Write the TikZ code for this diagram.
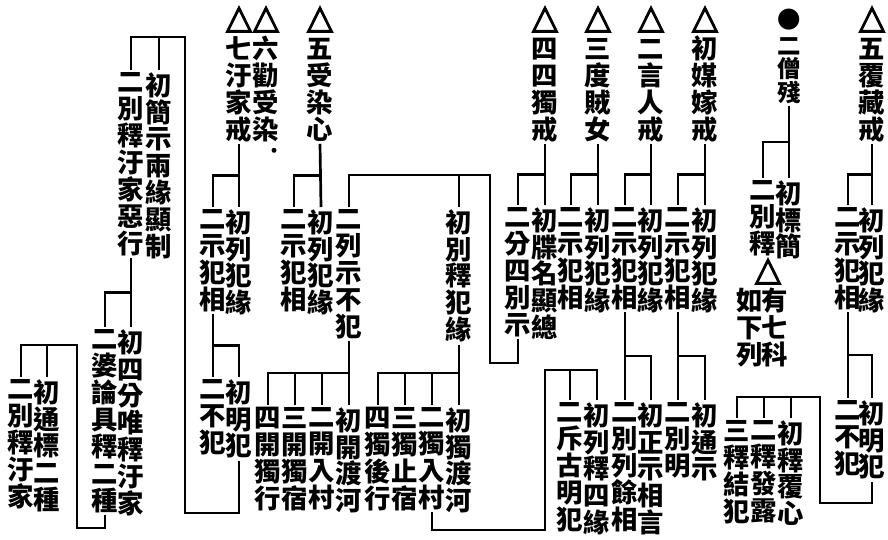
\documentclass[tikz,border=0pt]{standalone}
\usepackage{fontspec}
\setmainfont{Noto Sans CJK TC}
\newfontfamily\trifont{DejaVu Sans}[FakeBold=3]
\usetikzlibrary{calc}
\newcommand\hdtri{{\mdseries\trifont\fontsize{29}{23}\selectfont △}}
\tikzset{
  col/.style={inner sep=0pt,outer sep=2pt,anchor=north,align=center,font=\fontsize{22.5}{23}\selectfont\bfseries},
  link/.style={line width=2.3pt},
  blot/.style={fill=black},
}
\begin{document}
\begin{tikzpicture}[x=0.3mm,y=-0.3mm]
  \useasboundingbox (0,0) rectangle (888,539);
  \node[col] (hFu) at (872,4) {\hdtri\\[3pt]五\\覆\\藏\\戒};
  \node[col,font=\fontsize{20}{20}\selectfont\bfseries] (hSeng) at (789,7) {●\\[2pt]二\\僧\\殘};
  \node[col] (hMei) at (705,4) {\hdtri\\[3pt]初\\媒\\嫁\\戒};
  \node[col] (hYan) at (651,4) {\hdtri\\[3pt]二\\言\\人\\戒};
  \node[col] (hDu) at (598,4) {\hdtri\\[3pt]三\\度\\賊\\女};
  \node[col] (hSi) at (545,4) {\hdtri\\[3pt]四\\四\\獨\\戒};
  \node[col] (hRan) at (320,4) {\hdtri\\[3pt]五\\受\\染\\心};
  \node[col] (hQuan) at (266,4) {\hdtri\\[3pt]六\\勸\\受\\染};
  \node[col] (hWu) at (239,4) {\hdtri\\[3pt]七\\汙\\家\\戒};
  \fill[blot] ($(hQuan.south)+(8,6)$) circle (2.5);
  \node[col] (fu1) at (872,205) {初\\列\\犯\\緣};
  \node[col] (fu2) at (848,205) {二\\示\\犯\\相};
  \node[col] (fu3) at (872,398) {初\\明\\犯};
  \node[col] (fu4) at (848,398) {二\\不\\犯};
  \node[col] (sh1) at (791,418) {初\\釋\\覆\\心};
  \node[col] (sh2) at (764,418) {二\\釋\\發\\露};
  \node[col] (sh3) at (737,418) {三\\釋\\結\\犯};
  \node[col] (se1) at (789,178) {初\\標\\簡};
  \node[col] (se2) at (763,178) {二\\別\\釋};
  \node[col] (seT) at (768,256) {\hdtri};
  \node[col] (se3) at (775,286) {有\\七\\科};
  \node[col] (se4) at (750,286) {如\\下\\列};
  \node[col] (me1) at (705,205) {初\\列\\犯\\緣};
  \node[col] (me2) at (678,205) {二\\示\\犯\\相};
  \node[col] (me3) at (705,400) {初\\通\\示};
  \node[col] (me4) at (678,400) {二\\別\\明};
  \node[col] (ya1) at (651,205) {初\\列\\犯\\緣};
  \node[col] (ya2) at (625,205) {二\\示\\犯\\相};
  \node[col] (ya3) at (651,400) {初\\正\\示\\相\\言};
  \node[col] (ya4) at (625,400) {二\\別\\列\\餘\\相};
  \node[col] (du1) at (598,205) {初\\列\\犯\\緣};
  \node[col] (du2) at (571,205) {二\\示\\犯\\相};
  \node[col] (ls1) at (597,400) {初\\列\\釋\\四\\緣};
  \node[col] (ls2) at (570,400) {二\\斥\\古\\明\\犯};
  \node[col] (si1) at (545,205) {初\\牒\\名\\顯\\總};
  \node[col] (si2) at (518,205) {二\\分\\四\\別\\示};
  \node[col] (fe1) at (459,207) {初\\別\\釋\\犯\\緣};
  \node[col] (fe2) at (349,207) {二\\列\\示\\不\\犯};
  \node[col] (ra1) at (321,207) {初\\列\\犯\\緣};
  \node[col] (ra2) at (294,207) {二\\示\\犯\\相};
  \node[col] (dj1) at (459,405) {初\\獨\\渡\\河};
  \node[col] (dj2) at (432,405) {二\\獨\\入\\村};
  \node[col] (dj3) at (405,405) {三\\獨\\止\\宿};
  \node[col] (dj4) at (378,405) {四\\獨\\後\\行};
  \node[col] (kk1) at (349,405) {初\\開\\渡\\河};
  \node[col] (kk2) at (322,405) {二\\開\\入\\村};
  \node[col] (kk3) at (295,405) {三\\開\\獨\\宿};
  \node[col] (kk4) at (268,405) {四\\開\\獨\\行};
  \node[col] (wu1) at (239,207) {初\\列\\犯\\緣};
  \node[col] (wu2) at (213,207) {二\\示\\犯\\相};
  \node[col] (wu3) at (239,377) {初\\明\\犯};
  \node[col] (wu4) at (213,377) {二\\不\\犯};
  \node[col] (ti1) at (159,70) {初\\簡\\示\\兩\\緣\\顯\\制};
  \node[col] (ti2) at (131,70) {二\\別\\釋\\汙\\家\\惡\\行};
  \node[col] (fs1) at (131,327) {初\\四\\分\\唯\\釋\\汙\\家};
  \node[col] (fs2) at (105,327) {二\\婆\\論\\具\\釋\\二\\種};
  \node[col] (tb1) at (47,377) {初\\通\\標\\二\\種};
  \node[col] (tb2) at (21,377) {二\\別\\釋\\汙\\家};
  \foreach \p/\a/\b in {hFu/fu1/fu2,hSeng/se1/se2,hMei/me1/me2,hYan/ya1/ya2,hDu/du1/du2,hSi/si1/si2,hRan/ra1/ra2,hWu/wu1/wu2,ti2/fs1/fs2,fu2/fu4/fu3,ya2/ya4/ya3,me2/me4/me3,wu2/wu4/wu3} {
    \draw[link] (\p.south) -- (\a.north);
    \draw[link] (\b.north) |- ($(\p.south)!.5!(\a.north)$);
  }
  \draw[link] (fe2.south) -- (kk1.north);
  \foreach \n in {kk2,kk3,kk4} \draw[link] (\n.north) |- (kk1.north |- 0,373);
  \draw[link] (fe1.south) -- (dj1.north);
  \foreach \n in {dj2,dj3,dj4} \draw[link] (\n.north) |- (dj1.north |- 0,373);
  \draw[link] (fu3.south) |- (820,503) |- (sh3.north |- 0,397) -- (sh3.north);
  \foreach \n in {sh1,sh2} \draw[link] (\n.north) -- (\n.north |- 0,397);
  \draw[link] (dj2.south) |- (545,530) |- (ls1.north |- 0,370) -- (ls1.north);
  \draw[link] (ls2.north) -- (ls2.north |- 0,370);
  \draw[link] (si2.south) |- (490,363) |- (fe2.north |- 0,175) -- (fe2.north);
  \draw[link] (fe1.north) -- (fe1.north |- 0,175);
  \draw[link] (wu3.south) |- (185,513) |- (ti2.north |- 0,37) -- (ti2.north);
  \draw[link] (ti1.north) -- (ti1.north |- 0,37);
  \draw[link] (fs2.south) |- (77,528) |- (tb2.north |- 0,345) -- (tb2.north);
  \draw[link] (tb1.north) -- (tb1.north |- 0,345);
\end{tikzpicture}
\end{document}
